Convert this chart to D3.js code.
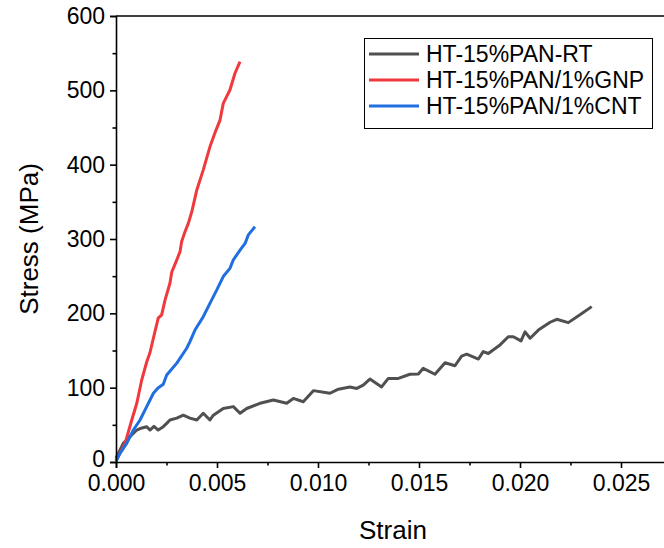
<!DOCTYPE html>
<html>
<head>
<meta charset="utf-8">
<script src="https://cdn.jsdelivr.net/npm/d3@7"></script>
<style>
  html, body { margin: 0; padding: 0; background: #fff; }
  svg { display: block; font-family: Arial, "Liberation Sans", sans-serif; }
</style>
</head>
<body>
<svg id="chart" width="664" height="548"></svg>
<script>
// Tensile stress–strain curves (strain, stress in MPa)
const rtStrain = [0.0000, 0.00036, 0.00069, 0.00103, 0.00119, 0.00152, 0.00168, 0.00188, 0.00209, 0.00234, 0.00251, 0.00267, 0.00301, 0.00333, 0.00366, 0.00400, 0.00432, 0.00465, 0.00482, 0.00531, 0.00581, 0.00614, 0.00647, 0.00713, 0.00779, 0.00845, 0.00878, 0.00927, 0.00977, 0.01059, 0.01101, 0.01158, 0.01192, 0.01224, 0.01257, 0.01315, 0.01348, 0.01398, 0.01455, 0.01497, 0.01521, 0.01579, 0.01629, 0.01678, 0.01711, 0.01736, 0.01794, 0.01818, 0.01843, 0.01901, 0.01942, 0.01967, 0.02005, 0.02025, 0.02050, 0.02091, 0.02149, 0.02182, 0.02239, 0.02297, 0.02355];
const rtStress = [5, 25, 34, 43, 45, 47.5, 43, 48, 43, 47.5, 52, 56.5, 59, 63, 59, 56.5, 65.5, 56.5, 63, 72, 74.5, 65.5, 72, 79, 83.5, 79, 85.5, 81, 96, 92.5, 98, 101, 99, 103.5, 111.5, 101, 112.5, 112.5, 118, 118.5, 126, 118, 133.5, 129.5, 142.5, 145, 138.5, 148.5, 146, 157.5, 168.5, 168.5, 163, 175, 166.5, 177.5, 188, 192, 187.5, 198, 209];

const gnpStrain = [0.0000, 0.00045, 0.00078, 0.00103, 0.00127, 0.00152, 0.00168, 0.00185, 0.00209, 0.00226, 0.00243, 0.00267, 0.00276, 0.00301, 0.00317, 0.00325, 0.00342, 0.00358, 0.00376, 0.00400, 0.00432, 0.00465, 0.00495, 0.00515, 0.00531, 0.00564, 0.00589, 0.00614];
const gnpStress = [2, 25, 56.5, 79, 110, 134.5, 147, 166.5, 193.5, 198, 218, 240.5, 255.5, 272, 283, 296.5, 310, 321, 337.5, 366, 393, 424, 446.5, 460, 482.5, 500.5, 523, 538.5];

const cntStrain = [0.0000, 0.00020, 0.00053, 0.00086, 0.00119, 0.00152, 0.00185, 0.00208, 0.00234, 0.00251, 0.00301, 0.00350, 0.00366, 0.00391, 0.00432, 0.00465, 0.00499, 0.00531, 0.00564, 0.00581, 0.00614, 0.00639, 0.00655, 0.00688];
const cntStress = [0.5, 11.5, 25, 43, 56.5, 74.5, 92.5, 99.5, 104.5, 117, 133, 153, 162, 177.5, 195.5, 213.5, 231.5, 249.5, 260.5, 272, 285, 294, 305.5, 316.5];

const seriesNames = ["HT-15%PAN-RT", "HT-15%PAN/1%GNP", "HT-15%PAN/1%CNT"];
const seriesColors = ["#505050", "#f0393d", "#1f6fe0"];

const xTicks = [0, 0.005, 0.010, 0.015, 0.020, 0.025];
const xMinorTicks = [0.0025, 0.0075, 0.0125, 0.0175, 0.0225, 0.0275];
const yTicks = [0, 100, 200, 300, 400, 500, 600];
const yMinorTicks = [50, 150, 250, 350, 450, 550];

const svg = d3.select("#chart");
const x = d3.scaleLinear().domain([0, 0.0275]).range([116, 671.5]);
const y = d3.scaleLinear().domain([0, 600]).range([462, 16]);

// Curves
const line = d3.line().x(d => x(d[0])).y(d => y(d[1]));
const series = [
  d3.zip(rtStrain, rtStress),
  d3.zip(gnpStrain, gnpStress),
  d3.zip(cntStrain, cntStress)
];
series.forEach((pts, i) => {
  svg.append("path")
    .datum(pts)
    .attr("d", line)
    .attr("fill", "none")
    .attr("stroke", seriesColors[i])
    .attr("stroke-width", 3)
    .attr("stroke-linejoin", "round")
    .attr("stroke-linecap", "butt");
});

// Axes
const xAxis = svg.append("g").attr("transform", `translate(0,${y(0)})`)
  .call(d3.axisBottom(x).tickValues(xTicks).tickFormat(d3.format(".3f")).tickSize(6).tickPadding(7));
const xMinor = svg.append("g").attr("transform", `translate(0,${y(0)})`)
  .call(d3.axisBottom(x).tickValues(xMinorTicks).tickFormat("").tickSize(3.5));
const yAxis = svg.append("g").attr("transform", `translate(${x(0)},0)`)
  .call(d3.axisLeft(y).tickValues(yTicks).tickSize(6).tickPadding(5));
const yMinor = svg.append("g").attr("transform", `translate(${x(0)},0)`)
  .call(d3.axisLeft(y).tickValues(yMinorTicks).tickFormat("").tickSize(3.5));

[xAxis, xMinor, yAxis, yMinor].forEach(g => {
  g.selectAll(".domain").attr("stroke", "#000").attr("stroke-width", 1.6);
  g.selectAll(".tick line").attr("stroke", "#000").attr("stroke-width", 1.6);
  g.selectAll(".tick text").attr("fill", "#000")
    .style("font-size", "23px").style("font-family", "Arial, 'Liberation Sans', sans-serif");
});
xMinor.select(".domain").remove();
yMinor.select(".domain").remove();
// keep the y "0" label clear of the x "0.000" label
yAxis.selectAll(".tick text").filter(d => d === 0).attr("dy", "0.2em");

// Top frame line
svg.append("line")
  .attr("x1", x(0)).attr("x2", 664).attr("y1", y(600)).attr("y2", y(600))
  .attr("stroke", "#000").attr("stroke-width", 1.6);

// Axis titles
svg.append("text")
  .attr("x", 393).attr("y", 539)
  .attr("text-anchor", "middle")
  .style("font-size", "26px")
  .text("Strain");
svg.append("text")
  .attr("transform", `translate(38,${(y(0) + y(600)) / 2}) rotate(-90)`)
  .attr("text-anchor", "middle")
  .style("font-size", "26px")
  .text("Stress (MPa)");

// Legend
const legend = svg.append("g");
legend.append("rect")
  .attr("x", 364.5).attr("y", 38.5).attr("width", 288).attr("height", 90)
  .attr("fill", "#fff").attr("stroke", "#000").attr("stroke-width", 1);
seriesNames.forEach((name, i) => {
  const cy = 54 + i * 26;
  legend.append("line")
    .attr("x1", 369).attr("x2", 419).attr("y1", cy).attr("y2", cy)
    .attr("stroke", seriesColors[i]).attr("stroke-width", 3);
  legend.append("text")
    .attr("x", 426).attr("y", cy)
    .attr("dy", "0.35em")
    .style("font-size", "23px")
    .text(name);
});
</script>
</body>
</html>
